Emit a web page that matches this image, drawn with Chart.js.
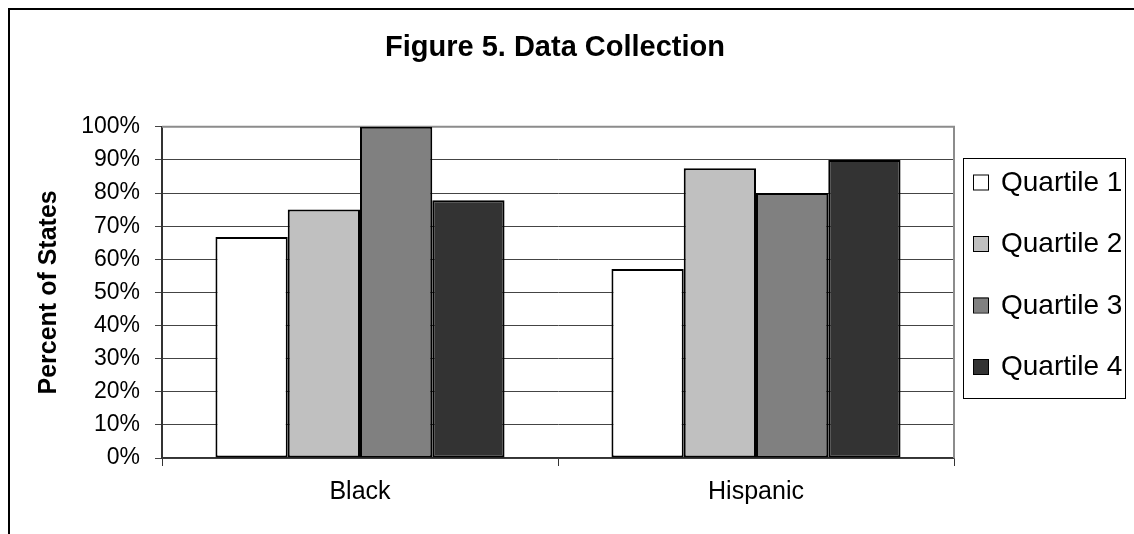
<!DOCTYPE html>
<html>
<head>
<meta charset="utf-8">
<title>Figure 5. Data Collection</title>
<script src="https://cdn.jsdelivr.net/npm/chart.js@4/dist/chart.umd.min.js"></script>
<style>
  html, body { margin: 0; padding: 0; background: #ffffff; }
  canvas { display: block; }
</style>
</head>
<body>
<canvas id="chart" width="1134" height="534"></canvas>
<script>
// Categories and series (percent of states)
const groups = ['Black', 'Hispanic'];
const seriesNames = ['Quartile 1', 'Quartile 2', 'Quartile 3', 'Quartile 4'];
const quartile1 = [66.7, 57.1];
const quartile2 = [75.0, 87.5];
const quartile3 = [100.0, 80.0];
const quartile4 = [77.8, 90.0];
const seriesFills = ['#ffffff', '#c0c0c0', '#808080', '#333333'];

const FONT = "'Liberation Sans', Arial, Helvetica, sans-serif";

// Outer frame (top and left edges) drawn behind everything
const framePlugin = {
  id: 'frame',
  beforeDraw(chart) {
    const ctx = chart.ctx;
    ctx.save();
    ctx.fillStyle = '#ffffff';
    ctx.fillRect(0, 0, chart.width, chart.height);
    ctx.strokeStyle = '#000000';
    ctx.lineWidth = 2;
    ctx.beginPath();
    ctx.moveTo(9, chart.height);
    ctx.lineTo(9, 9);
    ctx.lineTo(chart.width, 9);
    ctx.stroke();
    ctx.restore();
  }
};

// Grey top and right edges of the plot area
const plotEdgePlugin = {
  id: 'plotEdge',
  beforeDatasetsDraw(chart) {
    const {ctx, chartArea: a} = chart;
    ctx.save();
    ctx.strokeStyle = '#8c8c8c';
    ctx.lineWidth = 2;
    ctx.beginPath();
    ctx.moveTo(a.left, a.top);
    ctx.lineTo(a.right, a.top);
    ctx.lineTo(a.right, a.bottom);
    ctx.stroke();
    ctx.restore();
  }
};

// Boxed legend on the right of the plot area
const boxedLegendPlugin = {
  id: 'boxedLegend',
  afterDraw(chart) {
    const {ctx, chartArea: a} = chart;
    const left = a.right + 9, top = 158, w = 162, h = 240;
    ctx.save();
    ctx.strokeStyle = '#000000';
    ctx.lineWidth = 1;
    ctx.strokeRect(left + 0.5, top + 0.5, w, h);
    const step = 61.5;
    ctx.font = '28px ' + FONT;
    ctx.textBaseline = 'middle';
    ctx.textAlign = 'left';
    chart.data.datasets.forEach((ds, i) => {
      const cy = top + 24 + i * step;
      ctx.fillStyle = ds.backgroundColor;
      ctx.fillRect(left + 10, cy - 7.5, 15, 15);
      ctx.strokeStyle = '#000000';
      ctx.lineWidth = 1;
      ctx.strokeRect(left + 10.5, cy - 7, 15, 15);
      ctx.fillStyle = '#000000';
      ctx.fillText(ds.label, left + 38, cy + 1);
    });
    ctx.restore();
  }
};

const seriesData = [quartile1, quartile2, quartile3, quartile4];

new Chart(document.getElementById('chart'), {
  type: 'bar',
  data: {
    labels: groups,
    datasets: seriesNames.map((name, i) => ({
      label: name,
      data: seriesData[i],
      backgroundColor: seriesFills[i],
      borderColor: '#000000',
      borderWidth: 2,
      borderSkipped: false,
      categoryPercentage: 0.73,
      barPercentage: 1.0
    }))
  },
  options: {
    responsive: false,
    animation: false,
    devicePixelRatio: 1,
    layout: { padding: { left: 0, right: 24, top: 0, bottom: 0 } },
    plugins: {
      legend: { display: false },
      tooltip: { enabled: false },
      title: {
        display: true,
        text: 'Figure 5. Data Collection',
        color: '#000000',
        font: { family: FONT, size: 29, weight: 'bold' },
        padding: { top: 31, bottom: 61 }
      }
    },
    scales: {
      x: {
        grid: {
          display: true,
          drawOnChartArea: false,
          drawTicks: true,
          tickLength: 8,
          color: '#333333',
          lineWidth: 1
        },
        border: { display: true, color: '#333333', width: 1.5 },
        ticks: {
          color: '#000000',
          font: { family: FONT, size: 25 },
          padding: 11
        },
        afterFit(scale) { scale.height = 76; }
      },
      y: {
        min: 0,
        max: 100,
        ticks: {
          stepSize: 10,
          color: '#000000',
          font: { family: FONT, size: 23 },
          padding: 15,
          callback: (v) => v + '%'
        },
        grid: {
          color: '#444444',
          lineWidth: 1,
          tickLength: 7,
          drawTicks: true
        },
        border: { display: true, color: '#333333', width: 2 },
        title: {
          display: true,
          text: 'Percent of States',
          color: '#000000',
          font: { family: FONT, size: 25, weight: 'bold' },
          padding: { top: 34, bottom: 0 }
        },
        afterFit(scale) { scale.width = 162; }
      },
      yRight: {
        position: 'right',
        display: true,
        grid: { display: false, drawTicks: false },
        border: { display: false },
        ticks: { display: false },
        afterFit(scale) { scale.width = 156; }
      }
    }
  },
  plugins: [framePlugin, plotEdgePlugin, boxedLegendPlugin]
});
</script>
</body>
</html>
